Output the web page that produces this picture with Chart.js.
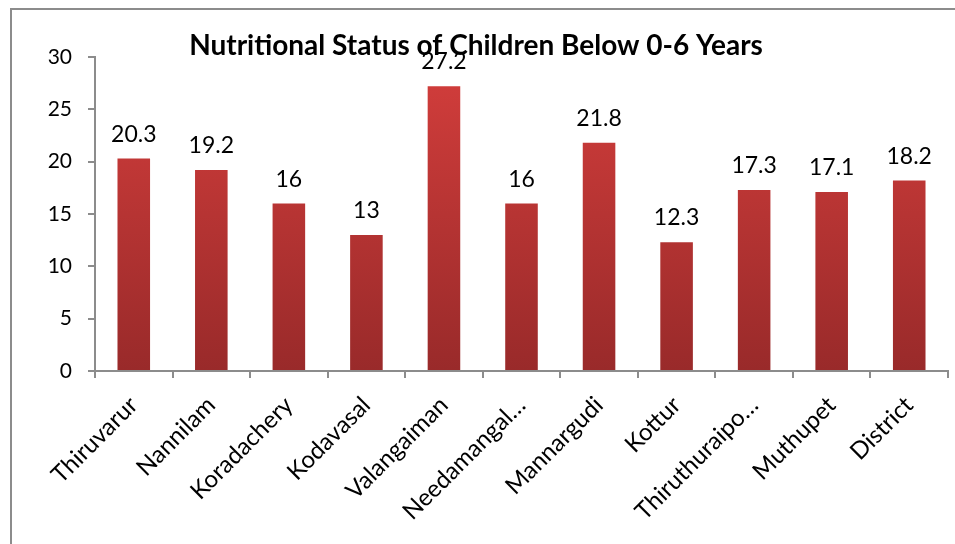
<!DOCTYPE html>
<html>
<head>
<meta charset="utf-8">
<script src="https://cdn.jsdelivr.net/npm/chart.js@4"></script>
<style>
  html, body { margin: 0; padding: 0; background: #fff; }
  #wrap { position: relative; width: 955px; height: 544px; }
</style>
</head>
<body>
<div id="wrap"><canvas id="nutriChart" width="955" height="544"></canvas></div>
<script>
// Datos del gráfico
const blocks = ['Thiruvarur', 'Nannilam', 'Koradachery', 'Kodavasal', 'Valangaiman',
  'Needamangal\u2026', 'Mannargudi', 'Kottur', 'Thiruthuraipo\u2026', 'Muthupet', 'District'];
const percentages = [20.3, 19.2, 16, 13, 27.2, 16, 21.8, 12.3, 17.3, 17.1, 18.2];
const yTicks = [0, 5, 10, 15, 20, 25, 30];

const fontFamily = 'Lato, "Open Sans", sans-serif';

// Marco exterior, título superpuesto y etiquetas de valor
const decorPlugin = {
  id: 'decor',
  beforeDraw(chart) {
    const c = chart.ctx;
    c.save();
    c.strokeStyle = '#8c8c8c';
    c.lineWidth = 2;
    c.beginPath();
    c.moveTo(11, 544);
    c.lineTo(11, 9);
    c.lineTo(955, 9);
    c.stroke();
    c.restore();
  },
  afterDatasetsDraw(chart) {
    const c = chart.ctx;
    const meta = chart.getDatasetMeta(0);
    c.save();
    c.fillStyle = '#000';
    c.font = '23px ' + fontFamily;
    c.textAlign = 'center';
    c.textBaseline = 'alphabetic';
    meta.data.forEach((bar, i) => {
      c.fillText(String(percentages[i]), bar.x, bar.y - 17);
    });
    c.font = 'bold 28px ' + fontFamily;
    c.fillText('Nutritional Status of Children Below 0-6 Years', 476, 55);
    c.restore();
  }
};

const ctx = document.getElementById('nutriChart').getContext('2d');
new Chart(ctx, {
  type: 'bar',
  data: {
    labels: blocks,
    datasets: [{
      data: percentages,
      backgroundColor: (context) => {
        const area = context.chart.chartArea;
        if (!area) return '#c23535';
        const g = context.chart.ctx.createLinearGradient(0, area.top, 0, area.bottom);
        g.addColorStop(0, '#d43e3c');
        g.addColorStop(1, '#992a2a');
        return g;
      },
      borderWidth: 0,
      barPercentage: 0.42,
      categoryPercentage: 1
    }]
  },
  options: {
    responsive: false,
    animation: false,
    layout: { padding: { top: 57, right: 7, left: 0, bottom: 0 } },
    plugins: {
      legend: { display: false },
      tooltip: { enabled: false },
      title: { display: false }
    },
    scales: {
      x: {
        afterFit(scale) { scale.height = 173; },
        grid: {
          offset: true,
          drawOnChartArea: false,
          drawTicks: true,
          tickLength: 7,
          color: '#8c8c8c',
          lineWidth: 2
        },
        border: { display: true, color: '#8c8c8c', width: 2 },
        ticks: {
          maxRotation: 45,
          minRotation: 45,
          autoSkip: false,
          padding: 13,
          color: '#000',
          font: { family: fontFamily, size: 24 }
        }
      },
      y: {
        min: 0,
        max: 30,
        afterFit(scale) { scale.width = 95; },
        afterBuildTicks(scale) { scale.ticks = yTicks.map(v => ({ value: v })); },
        grid: {
          drawOnChartArea: false,
          drawTicks: true,
          tickLength: 7,
          color: '#8c8c8c',
          lineWidth: 2
        },
        border: { display: true, color: '#8c8c8c', width: 2 },
        ticks: {
          padding: 16,
          color: '#000',
          font: { family: fontFamily, size: 21 }
        }
      }
    }
  },
  plugins: [decorPlugin]
});
</script>
</body>
</html>
